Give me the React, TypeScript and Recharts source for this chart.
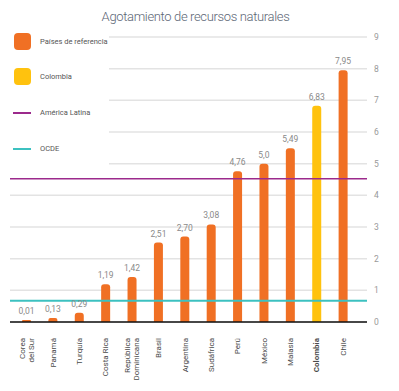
import { Bar, BarChart, CartesianGrid, Cell, LabelList, ReferenceLine, XAxis, YAxis } from "recharts";

const countries = [
  "Corea\ndel Sur",
  "Panamá",
  "Turquía",
  "Costa Rica",
  "República\nDominicana",
  "Brasil",
  "Argentina",
  "Sudáfrica",
  "Perú",
  "México",
  "Malasia",
  "Colombia",
  "Chile",
];
const depletion = [0.01, 0.13, 0.29, 1.19, 1.42, 2.51, 2.7, 3.08, 4.76, 5.0, 5.49, 6.83, 7.95];
const valueLabels = ["0,01", "0,13", "0,29", "1,19", "1,42", "2,51", "2,70", "3,08", "4,76", "5,0", "5,49", "6,83", "7,95"];
const yTicks = [0, 1, 2, 3, 4, 5, 6, 7, 8, 9];
const latamAvg = 4.52;
const oecdAvg = 0.67;

const ORANGE = "#f07024";
const YELLOW = "#ffc20e";
const PURPLE = "#9c2a8c";
const TEAL = "#3cc1c0";
const FONT = "Roboto, sans-serif";

const rows = countries.map((c, i) => ({ country: c, value: depletion[i], label: valueLabels[i] }));

function CountryTick({ x, y, payload }: any) {
  const lines: string[] = String(payload.value).split("\n");
  const bold = payload.value === "Colombia";
  const first = lines.length > 1 ? -1.5 : 3;
  return (
    <g transform={`translate(${x},${y + 8})`}>
      {lines.map((l, i) => (
        <text
          key={i}
          transform="rotate(-90)"
          x={0}
          y={first + i * 9}
          textAnchor="end"
          fontSize={8}
          fontFamily={FONT}
          fontWeight={bold ? 700 : 400}
          fill="#4a4a4a"
        >
          {l}
        </text>
      ))}
    </g>
  );
}

function LegendBox() {
  const item = (top: number, kind: "box" | "line", color: string, text: string) => (
    <div style={{ position: "absolute", left: 0, top, height: 18, width: 110 }}>
      {kind === "box" ? (
        <div style={{ position: "absolute", left: 14, top: 0, width: 17, height: 17, borderRadius: 4, background: color }} />
      ) : (
        <div style={{ position: "absolute", left: 13, top: 8, width: 18, height: 1.5, background: color }} />
      )}
      <span
        style={{
          position: "absolute",
          left: 40,
          top: 3,
          fontSize: 7.5,
          fontFamily: FONT,
          color: "#555",
          whiteSpace: "nowrap",
          lineHeight: "11px",
        }}
      >
        {text}
      </span>
    </div>
  );
  return (
    <div style={{ position: "absolute", left: 0, top: 30, width: 109, height: 140, background: "#fff" }}>
      {item(3, "box", ORANGE, "Países de referencia")}
      {item(38, "box", YELLOW, "Colombia")}
      {item(74, "line", PURPLE, "América Latina")}
      {item(110, "line", TEAL, "OCDE")}
    </div>
  );
}

export default function App() {
  return (
    <div style={{ position: "relative", width: 399, height: 391, background: "#fff" }}>
      <style>{`body{margin:0}`}</style>
      <BarChart width={399} height={391} data={rows} margin={{ top: 37, right: 8, bottom: 9, left: 10 }}>
        <CartesianGrid vertical={false} stroke="#e3e3e3" strokeWidth={1.5} />
        <XAxis
          dataKey="country"
          interval={0}
          tickLine={false}
          axisLine={{ stroke: "#111", strokeWidth: 1.5 }}
          height={60}
          padding={{ left: 3, right: 11 }}
          tick={<CountryTick />}
        />
        <YAxis
          orientation="right"
          domain={[0, 9]}
          ticks={yTicks}
          width={24}
          tickLine={false}
          axisLine={false}
          tickSize={0}
          tickMargin={7}
          tick={{ fontSize: 8.5, fill: "#999", fontFamily: FONT, textAnchor: "start" }}
        />
        <Bar dataKey="value" barSize={9} radius={[3, 3, 0, 0]} minPointSize={2} isAnimationActive={false}>
          {rows.map((r, i) => (
            <Cell key={i} fill={r.country === "Colombia" ? YELLOW : ORANGE} />
          ))}
          <LabelList dataKey="label" position="top" offset={6} fontSize={8.5} fill="#8a8a8a" fontFamily={FONT} />
        </Bar>
        <ReferenceLine y={latamAvg} stroke={PURPLE} strokeWidth={1.5} />
        <ReferenceLine y={oecdAvg} stroke={TEAL} strokeWidth={2} />
      </BarChart>
      <LegendBox />
      <div
        style={{
          position: "absolute",
          left: 0,
          width: 391,
          top: 9,
          textAlign: "center",
          fontFamily: FONT,
          fontWeight: 300,
          fontSize: 13,
          color: "#5c6675",
          letterSpacing: -0.35,
        }}
      >
        Agotamiento de recursos naturales
      </div>
    </div>
  );
}
